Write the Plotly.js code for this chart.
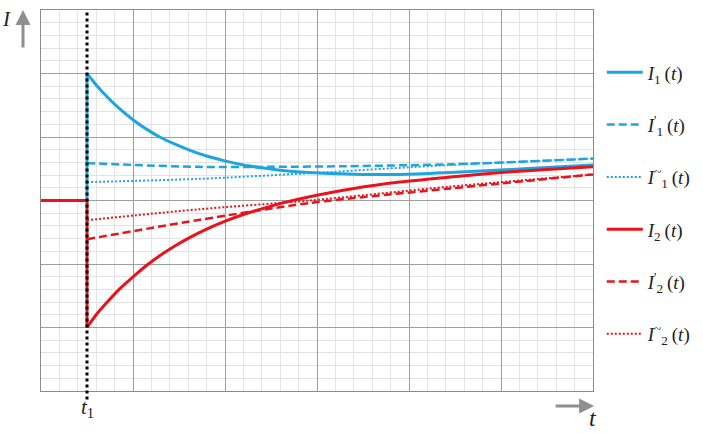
<!DOCTYPE html>
<html>
<head>
<meta charset="utf-8">
<script src="https://cdn.plot.ly/plotly-3.0.1.min.js"></script>
<style>html,body{margin:0;padding:0;background:#fff;}#chart{width:703px;height:433px;}</style>
</head>
<body>
<div id="chart"></div>
<script>
// pre-switching segment (before t1)
const tStep = [0, 0.5, 0.5];
const I1Step = [3, 3, 5];
const I2Step = [3, 3, 1];

// curves after t1
const tCurve = [0.5, 0.6, 0.72, 0.85, 1.01, 1.15, 1.29, 1.45, 1.62, 1.8, 2.01, 2.2, 2.38, 2.65, 2.92, 3.4, 3.9, 4.45, 5.0, 5.5, 6.0];
const I1 = [5.0, 4.82, 4.63, 4.45, 4.26, 4.12, 4.0, 3.89, 3.79, 3.70, 3.62, 3.56, 3.52, 3.47, 3.44, 3.415, 3.41, 3.44, 3.48, 3.52, 3.56];
const I2 = [1.0, 1.2, 1.4, 1.6, 1.81, 1.98, 2.13, 2.28, 2.42, 2.55, 2.68, 2.78, 2.86, 2.97, 3.06, 3.19, 3.29, 3.37, 3.44, 3.49, 3.53];

const tI1p = [0.5, 1.0, 1.7, 2.5, 3.3, 4.45, 5.2, 6.0];
const I1p = [3.59, 3.56, 3.53, 3.53, 3.54, 3.57, 3.61, 3.66];
const tI1t = [0.5, 1.7, 2.92, 4.45, 6.0];
const I1t = [3.29, 3.34, 3.43, 3.56, 3.66];

const tI2p = [0.5, 1.7, 2.92, 4.45, 6.0];
const I2p = [2.39, 2.69, 2.96, 3.19, 3.41];
const tI2t = [0.5, 1.7, 2.92, 4.45, 6.0];
const I2t = [2.69, 2.86, 3.0, 3.22, 3.41];

const t1 = 0.5;
const names = [
  "<i>I</i><sub>1</sub>\u2009(<i>t</i>)",
  "<i>I</i><sup>'</sup><sub>1</sub>\u2009(<i>t</i>)",
  "<i>I</i><sup>~</sup><sub>1</sub>\u2009(<i>t</i>)",
  "<i>I</i><sub>2</sub>\u2009(<i>t</i>)",
  "<i>I</i><sup>'</sup><sub>2</sub>\u2009(<i>t</i>)",
  "<i>I</i><sup>~</sup><sub>2</sub>\u2009(<i>t</i>)"
];

const blue = "#1ea5e0";
const red = "#e8141b";

function tr(x, y, name, color, width, dash, grp) {
  return {x: x, y: y, name: name, type: "scatter", mode: "lines",
    line: {color: color, width: width, dash: dash, shape: "spline", smoothing: 0.8},
    legendgroup: grp, hoverinfo: "skip"};
}

const data = [
  tr(tCurve, I1, names[0], blue, 3, "solid", "a"),
  tr(tI1p, I1p, names[1], blue, 2.5, "8px,4px", "b"),
  tr(tI1t, I1t, names[2], blue, 2, "2px,2px", "c"),
  tr(tCurve, I2, names[3], red, 3, "solid", "d"),
  tr(tI2p, I2p, names[4], red, 2.5, "8px,4px", "e"),
  tr(tI2t, I2t, names[5], red, 2, "2px,2px", "f"),
  {x: tStep, y: I1Step, type: "scatter", mode: "lines", showlegend: false,
   line: {color: blue, width: 3}, hoverinfo: "skip"},
  {x: tStep, y: I2Step, type: "scatter", mode: "lines", showlegend: false,
   line: {color: red, width: 3}, hoverinfo: "skip"}
];

const axisCommon = {
  range: [0, 6], dtick: 1, showticklabels: false, ticks: "",
  showgrid: true, gridcolor: "#9e9e9e", gridwidth: 1,
  minor: {dtick: 0.2, showgrid: true, gridcolor: "#e3e3e3", gridwidth: 1},
  zeroline: false, showline: true, mirror: true, linecolor: "#8c8c8c", linewidth: 1,
  fixedrange: true
};

const serif = "Liberation Serif, DejaVu Serif, serif";

const layout = {
  width: 703, height: 433,
  margin: {l: 41, r: 110, t: 10, b: 42},
  paper_bgcolor: "#ffffff", plot_bgcolor: "#ffffff",
  xaxis: Object.assign({}, axisCommon),
  yaxis: Object.assign({}, axisCommon),
  showlegend: true,
  legend: {xref: "container", x: 0.856, y: 0.886, xanchor: "left", yanchor: "top",
    font: {family: serif, size: 19, color: "#222"}, itemwidth: 36,
    tracegroupgap: 24.6, bgcolor: "rgba(0,0,0,0)"},
  shapes: [
    {type: "line", xref: "x", yref: "paper", x0: t1, x1: t1, y0: -0.022, y1: 1.0,
     line: {color: "#000", width: 3, dash: "dot"}, layer: "above"}
  ],
  annotations: [
    {xref: "paper", yref: "paper", x: -0.0326, y: 1.0, ax: 0, ay: 39, axref: "pixel", ayref: "pixel",
     text: "", showarrow: true, arrowhead: 2, arrowsize: 1, arrowwidth: 3, arrowcolor: "#8f8f8f"},
    {xref: "paper", yref: "paper", x: 1.002, y: -0.0394, ax: -40, ay: 0, axref: "pixel", ayref: "pixel",
     text: "", showarrow: true, arrowhead: 2, arrowsize: 1, arrowwidth: 3, arrowcolor: "#8f8f8f"},
    {xref: "paper", yref: "paper", x: -0.063, y: 0.976, text: "<i>I</i>", showarrow: false,
     xanchor: "center", yanchor: "middle", font: {family: serif, size: 21, color: "#222"}},
    {xref: "paper", yref: "paper", x: 1.0, y: -0.072, text: "<i>t</i>", showarrow: false,
     xanchor: "center", yanchor: "middle", font: {family: serif, size: 24, color: "#222"}},
    {xref: "x", yref: "paper", x: t1, y: -0.045, text: "<i>t</i><sub>1</sub>", showarrow: false,
     xanchor: "center", yanchor: "middle", font: {family: serif, size: 21, color: "#222"}}
  ]
};

Plotly.newPlot("chart", data, layout, {staticPlot: true, displayModeBar: false});
</script>
</body>
</html>
